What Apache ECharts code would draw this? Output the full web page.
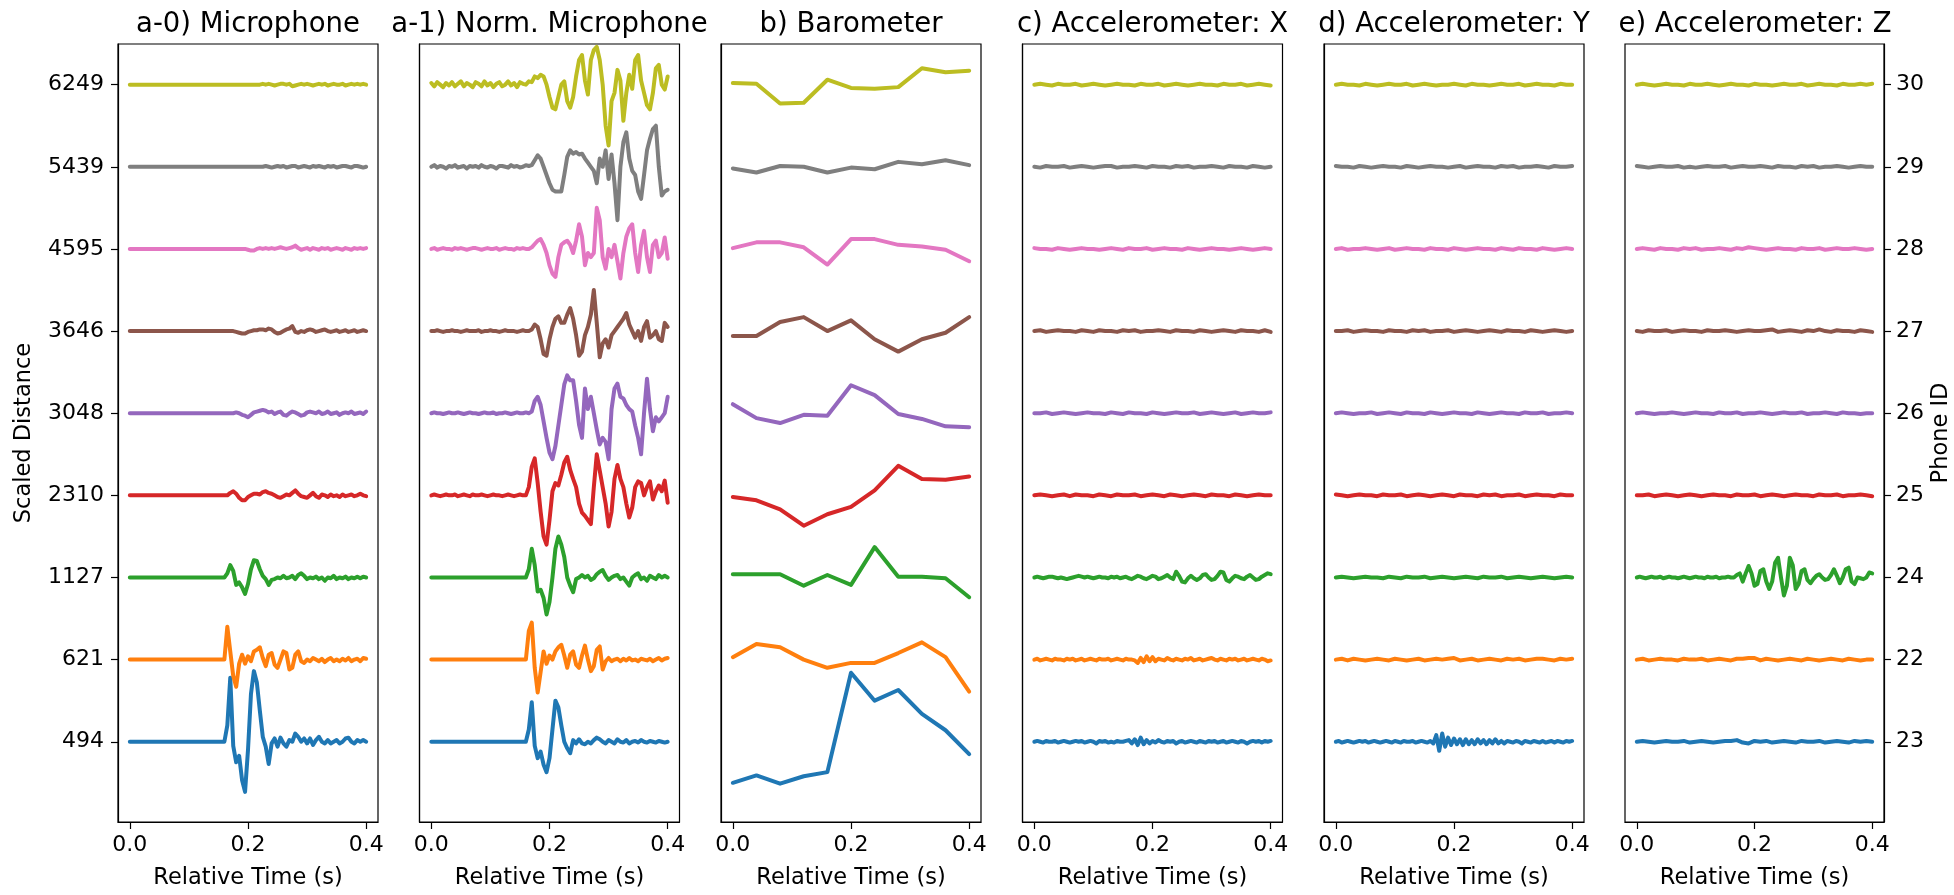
<!DOCTYPE html>
<html>
<head>
<meta charset="utf-8">
<script src="https://cdn.jsdelivr.net/npm/echarts@6/dist/echarts.min.js"></script>
<style>
html,body{margin:0;padding:0;background:#fff;overflow:hidden;width:1954px;height:895px;}
#chart{width:1954px;height:895px;}
</style>
</head>
<body>
<div id="chart"></div>
<script>
// ---------------- DATA ----------------
const panelTitles = ['a-0) Microphone','a-1) Norm. Microphone','b) Barometer','c) Accelerometer: X','d) Accelerometer: Y','e) Accelerometer: Z'];
const distanceLabels = ['494','621','1127','2310','3048','3646','4595','5439','6249'];
const phoneIds = ['23','22','24','25','26','27','28','29','30'];
const xTickValues = [0, 0.2, 0.4];
const traceColors = ['#1f77b4','#ff7f0e','#2ca02c','#d62728','#9467bd','#8c564b','#e377c2','#7f7f7f','#bcbd22'];

// sample times (s)
const tFine = [];   for (let k = 0; k <= 80; k++) tFine.push(+(k * 0.005).toFixed(3));
const tCoarse = []; for (let k = 0; k <= 40; k++) tCoarse.push(+(k * 0.01).toFixed(2));
const tBaro = [0,0.04,0.08,0.12,0.16,0.2,0.24,0.28,0.32,0.36,0.4];

// a-0 Microphone (offset units, 81 samples)
const mic0_blue = [0,0,0,0,0,0,0,0,0,0, 0,0,0,0,0,0,0,0,0,0, 0,0,0,0,0,0,0,0,0,0, 0,0,0,
 0.2,0.78,-0.05,-0.25,-0.17,-0.47,-0.61,-0.1,0.58,0.86, 0.72,0.38,0.06,-0.06,-0.27,-0.02,0.04,-0.06,0.05,-0.02,
 -0.06,0.02,0,0.1,0.06,0,0.04,-0.02,0.04,-0.04, 0.02,0.06,0,-0.02,0.02,-0.02,0,0.02,-0.02,0, 0.04,0.05,0,-0.02,0.02,0,0.02,0];
const mic0_orange = [0,0,0,0,0,0,0,0,0,0, 0,0,0,0,0,0,0,0,0,0, 0,0,0,0,0,0,0,0,0,0, 0,0,0,
 0.4,0.1,-0.2,-0.33,-0.05,0.06,-0.05,0.04,-0.02,0.1, 0.12,0.15,0.02,-0.08,0.06,0.08,-0.06,-0.1,0,0.1,
 0.08,-0.12,-0.1,0.06,0.1,-0.02,-0.04,0,-0.02,0.02, 0,-0.02,0.01,-0.03,0,0.02,-0.02,0,-0.02,0.01, -0.01,0.02,-0.02,0,0.01,-0.02,0.02,0.01];
const mic0_green = [0,0,0,0,0,0,0,0,0,0, 0,0,0,0,0,0,0,0,0,0, 0,0,0,0,0,0,0,0,0,0, 0,0,0,
 0.05,0.15,0.08,-0.09,-0.06,-0.12,-0.2,-0.08,0.1,0.21, 0.2,0.1,0.02,-0.02,-0.09,-0.03,-0.02,0,-0.01,0.02,
 -0.01,0,0.02,-0.02,0.03,0.05,0.02,-0.02,0,-0.01, 0.01,-0.02,0,-0.04,0,-0.01,0.02,-0.02,0,-0.01, 0.01,-0.02,0,-0.01,0.01,-0.01,0.01,0];
const mic0_red = [0,0,0,0,0,0,0,0,0,0, 0,0,0,0,0,0,0,0,0,0, 0,0,0,0,0,0,0,0,0,0, 0,0,0,0,
 0.03,0.05,0.02,-0.03,-0.06,-0.06,-0.02,0,0.02,0.02, 0.01,0.04,0.05,0.03,0.02,0,-0.02,-0.03,-0.01,0.01,
 0,0.03,0.06,0.02,-0.01,-0.02,-0.03,0,0.03,-0.01, -0.03,0.01,0,-0.02,0.01,-0.01,0,-0.02,0.01,-0.01, 0,0.01,-0.01,0,0.02,0,-0.01];
const mic0_purple = [0,0,0,0,0,0,0,0,0,0, 0,0,0,0,0,0,0,0,0,0, 0,0,0,0,0,0,0,0,0,0, 0,0,0,0,0,
 0,0.01,0,-0.02,-0.03,-0.05,-0.02,0.01,0.02,0.03, 0.04,0.03,0.01,0.02,-0.01,0.01,0.02,-0.02,-0.03,0,
 0.02,0.01,-0.01,-0.03,-0.02,0.01,0.02,0.01,0,0.02, -0.01,0,0.02,-0.01,0,0.01,-0.02,0,0.01,0, 0.02,-0.01,0,0.01,-0.01,0.02];
const mic0_brown = [0,0,0,0,0,0,0,0,0,0, 0,0,0,0,0,0,0,0,0,0, 0,0,0,0,0,0,0,0,0,0, 0,0,0,0,0,
 0,-0.01,-0.02,-0.03,-0.03,-0.01,0,0.01,0.01,0.02, 0.02,0.01,0.03,0.02,-0.01,-0.03,-0.02,0,0.02,0.03,
 0.06,-0.01,-0.02,0,-0.01,0.01,0.02,0.01,-0.01,0, 0.01,0.02,0,-0.01,0,0.01,-0.01,0,0.01,-0.01, 0,0.01,-0.01,0,0.01,0];
const mic0_pink = [0,0,0,0,0,0,0,0,0,0, 0,0,0,0,0,0,0,0,0,0, 0,0,0,0,0,0,0,0,0,0, 0,0,0,0,0,0,0,0,
 0,0,-0.01,-0.02,-0.02,0,0.01,0,0.01,0, 0.01,0,0.01,0.02,0.01,0,0.01,0.02,0.04,0.01,
 -0.01,0,0.01,-0.01,0.01,0,-0.01,0.01,0,0.01, -0.01,0,0.01,0,-0.01,0.01,0,-0.01,0.01,0, 0.01,0,0.01];
const mic0_gray = [0,0,0,0,0,0,0,0,0,0, 0,0,0,0,0,0,0,0,0,0, 0,0,0,0,0,0,0,0,0,0, 0,0,0,0,0,0,0,0,0,0, 0,0,0,0,0,
 0,0.01,0,-0.01,0,0.01,0,0.01,-0.01,0, 0.01,0.01,-0.01,0,0.01,0,-0.01,0.01,0,0.01,
 0,-0.01,0.01,0,0.01,-0.01,0,0.01,0.01,0, -0.01,0.01,0.01,0,-0.01,0];
const mic0_olive = [0,0,0,0,0,0,0,0,0,0, 0,0,0,0,0,0,0,0,0,0, 0,0,0,0,0,0,0,0,0,0, 0,0,0,0,0,0,0,0,0,0, 0,0,0,0,
 0,0.01,0,0.01,0,-0.01,0,0.01,0.01,0, 0.01,-0.02,-0.01,0,0.01,0,0.01,0,-0.01,0,
 0.01,0,0.01,-0.01,0,0.01,0,0,0.01,-0.01, 0,0.01,0,0.01,0,0.01,0];

// a-1 Normalised microphone (offset units, 81 samples)
const mic1_blue = [0,0,0,0,0,0,0,0,0,0, 0,0,0,0,0,0,0,0,0,0, 0,0,0,0,0,0,0,0,0,0, 0,0,0,
 0.15,0.48,-0.05,-0.2,-0.12,-0.28,-0.37,-0.2,0.15,0.5, 0.42,0.2,0,-0.08,-0.14,0.02,-0.02,0.03,-0.02,-0.03,
 0,-0.02,0.02,0.05,0.03,0,-0.02,0.02,0,-0.02, 0.03,0,-0.01,0.02,-0.02,0,0.01,-0.01,0.02,0, -0.01,0.01,0,-0.01,0.01,0,-0.01,0];
const mic1_orange = [0,0,0,0,0,0,0,0,0,0, 0,0,0,0,0,0,0,0,0,0, 0,0,0,0,0,0,0,0,0,0, 0,0,0,
 0.35,0.45,-0.1,-0.4,-0.15,0.1,-0.05,0.05,0,0.1, 0.15,0.18,0.05,-0.1,0.06,0.1,-0.06,-0.1,0.05,0.17,
 0,-0.14,-0.08,0.12,0.16,-0.12,-0.02,0.02,-0.02,0, 0.01,-0.02,0.01,-0.01,0.02,-0.01,0,-0.02,0.01,0, -0.01,0.01,-0.02,0,0.02,-0.01,0.01,0.02];
const mic1_green = [0,0,0,0,0,0,0,0,0,0, 0,0,0,0,0,0,0,0,0,0, 0,0,0,0,0,0,0,0,0,0, 0,0,0,
 0.1,0.35,0.15,-0.17,-0.15,-0.25,-0.45,-0.3,0,0.35, 0.5,0.4,0.25,0,-0.1,-0.18,-0.02,0,0.03,0,
 0.02,-0.03,-0.01,0.04,0.07,0.09,0.02,-0.03,0,0.02, 0.03,-0.02,0,-0.05,-0.1,0,0.03,0.05,-0.02,0, -0.04,0.02,0,-0.02,0.03,0,0.02,0];
const mic1_red = [0,0.01,0,-0.01,0,0.01,0,0,0.01,-0.01, 0,0.01,0,-0.01,0.01,0,0,0.01,0,-0.01, 0,0.01,0,0,-0.01,0,0.01,0,-0.01,0, 0.01,0,
 0,0.1,0.35,0.45,0.15,-0.2,-0.5,-0.6,-0.3,0.05, 0.15,0.12,0.25,0.4,0.47,0.31,0.2,0.1,-0.1,-0.21,
 -0.25,-0.3,-0.35,0.1,0.5,0.3,0.1,-0.1,-0.38,-0.2, 0.2,0.37,0.2,0.1,-0.1,-0.27,-0.15,0.1,0.17,0.15, 0,0.1,0.17,-0.05,0.05,0.12,0.05,0.18,-0.09];
const mic1_purple = [0,0.01,0,0,-0.01,0,0.01,0,0,0.01, 0,-0.01,0,0.01,0,0,-0.01,0,0.01,0, 0,0.01,-0.01,0,0,0.01,0,-0.01,0,0.01, 0,0,0.01,0,
 0.02,0.15,0.2,0.1,-0.1,-0.3,-0.48,-0.56,-0.4,-0.15, 0.1,0.35,0.46,0.4,0.4,0.15,-0.14,-0.3,0.3,0.05,
 0.2,0,-0.2,-0.38,-0.3,-0.35,-0.56,0.05,0.3,0.36, 0.2,0.18,0.1,0.05,0.02,-0.15,-0.3,-0.5,0,0.42, 0.05,-0.22,-0.05,-0.1,-0.05,0,0.2];
const mic1_brown = [0,0,0.01,0,-0.01,0,0,0.01,0,0, -0.01,0,0.01,0,0,0,0.01,-0.01,0,0, 0.01,0,0,-0.01,0,0.01,0,0,0,-0.01, 0,0.01,0,0,
 0.02,0.08,0.05,-0.1,-0.28,-0.3,-0.1,0.05,0.15,0.18, 0.1,0.1,0.2,0.28,0.15,-0.05,-0.3,-0.25,-0.05,0.05,
 0.2,0.5,0.1,-0.32,-0.15,-0.1,-0.2,-0.05,0,0.05, 0.1,0.15,0.22,0.08,0,-0.08,0,-0.12,0.05,0.12, -0.08,-0.05,0,-0.1,-0.12,0.1,0.05];
const mic1_pink = [0,0.01,-0.01,0,0.01,0,0,-0.01,0.01,0, 0.01,0,-0.01,0,0.01,0.01,0,-0.01,0,0.01, 0,0,0.01,-0.01,0,0.01,0,0,-0.01,0.01, 0,0.01,0,0,
 0.02,0.06,0.1,0.12,0.05,-0.05,-0.2,-0.3,-0.34,-0.1, 0.05,0.08,0.1,0.05,-0.05,0.1,0.3,0.15,-0.2,-0.05,
 -0.1,-0.05,0.5,0.35,-0.1,-0.24,0,-0.1,0.05,-0.15, -0.36,-0.05,0.15,0.25,0.3,-0.05,-0.28,0.05,0.22,-0.1, -0.28,0.05,0.1,-0.1,-0.05,0.14,-0.12];
const mic1_gray = [0,0.02,-0.01,0.01,0,-0.02,0.01,0,0.02,-0.01, 0,0.01,-0.02,0.01,0,0.01,-0.01,0.02,0,-0.01, 0.01,0,-0.02,0.01,0.01,0,-0.01,0.02,0,0.01, -0.01,0,0.02,0.01,
 0.02,0.08,0.14,0.1,0,-0.1,-0.2,-0.28,-0.3,-0.3, -0.3,-0.1,0.12,0.2,0.16,0.18,0.15,0.16,0.1,0.05,
 0,-0.05,-0.2,0.1,0,0.2,-0.15,0.15,-0.2,-0.65, 0,0.3,0.42,0.1,-0.05,-0.1,-0.3,-0.39,-0.1,0.2, 0.34,0.46,0.5,0,-0.35,-0.3,-0.28];
const mic1_olive = [0.02,-0.02,0.03,0,-0.03,0.02,-0.01,0.03,-0.02,0.01, 0.04,-0.02,0.02,0,-0.03,0.03,0.01,-0.02,0.04,-0.01, 0.02,-0.03,0.01,0.03,-0.02,0,0.04,-0.01,0.02,-0.03, 0.03,0.01,0,0.04,
 0.03,0.1,0.08,0.12,0.1,0,-0.15,-0.28,-0.3,-0.15, 0,0.04,-0.2,-0.28,-0.15,0.1,0.3,0.36,0.05,-0.12,
 0.3,0.42,0.46,0.3,0,-0.5,-0.74,-0.2,-0.1,0.18, 0.05,-0.44,-0.1,0.12,-0.05,0.3,0.36,0.05,-0.1,-0.25, -0.3,-0.1,0.2,0.24,0,-0.06,0.1];

// b Barometer (offset units, 11 samples)
const baro_blue   = [-0.5,-0.41,-0.51,-0.42,-0.37,0.84,0.5,0.63,0.34,0.14,-0.15];
const baro_orange = [0.03,0.19,0.15,0,-0.1,-0.04,-0.04,0.08,0.21,0.03,-0.39];
const baro_green  = [0.04,0.04,0.04,-0.1,0.03,-0.09,0.37,0.01,0.01,-0.01,-0.24];
const baro_red    = [-0.02,-0.06,-0.17,-0.37,-0.23,-0.14,0.06,0.36,0.2,0.19,0.23];
const baro_purple = [0.11,-0.06,-0.12,-0.02,-0.03,0.34,0.22,-0.01,-0.07,-0.16,-0.17];
const baro_brown  = [-0.06,-0.06,0.11,0.17,0,0.13,-0.1,-0.25,-0.1,-0.02,0.17];
const baro_pink   = [0.01,0.08,0.08,0.02,-0.19,0.12,0.12,0.05,0.03,-0.01,-0.15];
const baro_gray   = [-0.02,-0.07,0.01,0,-0.07,-0.01,-0.03,0.06,0.03,0.08,0.02];
const baro_olive  = [0.02,0.01,-0.23,-0.22,0.06,-0.04,-0.05,-0.03,0.2,0.15,0.17];

// c/d/e Accelerometers (hundredths of an offset unit; 41 or 81 samples)
const accX_blue = [0,1,0,-1,1,0,0,1,-1,0, 1,0,-1,0,1,0,1,-1,0,1, 0,-2,1,0,1,-1,0,-1,1,0, 0,1,2,-2,3,-4,5,-3,2,-2,
 1,-1,2,0,-1,1,0,1,-2,0, 1,-1,0,1,0,-1,1,0,-1,1, 0,1,-1,0,1,-1,0,1,0,-1, 1,0,-2,0,1,0,1,-1,1,0,1];
const accX_orange = [0,1,-1,0,1,0,-1,1,0,0, -1,1,0,1,-1,0,1,-1,0,1, 0,-1,1,0,0,1,-1,0,1,0, -1,1,0,0,-1,-4,2,-3,4,-2,
 3,-2,1,0,-1,2,0,-1,1,0, -1,1,0,2,-1,0,1,-1,0,1, 2,0,-1,1,0,-1,1,0,1,-1, 0,1,-1,0,1,0,-1,1,0,-2,-1];
const accX_green = [0,1,0,-1,0,1,1,0,-1,0,-1, -2,-1,0,1,2,1,0,1,0,-1, 0,1,0,0,-1,1,0,1,-1,0, 1,-1,-2,0,2,1,-1,-2,0,2,
 1,-2,-1,1,3,0,-2,7,2,-5, -6,-1,2,-1,-3,-1,3,4,0,-3, -2,2,7,6,-3,-5,-1,2,1,-1, -2,1,3,0,-3,-2,1,3,5,4];
const accX_red    = [0,1,0,-1,0,1,-1,1,0,0, -1,1,0,-1,1,0,0,1,-1,0, 1,0,-1,1,0,-1,0,1,0,-1, 1,0,0,-1,1,0,-1,0,1,0,0];
const accX_purple = [0,0,1,-1,0,1,0,-1,0,1, 0,0,-1,1,0,-1,1,0,0,-1, 1,0,-1,0,1,0,0,1,-1,0, 1,0,-1,0,1,-1,0,1,0,0,1];
const accX_brown  = [0,1,-1,0,1,0,0,-1,1,0, -1,1,0,0,-1,1,0,1,-1,0, 0,1,0,-1,1,0,0,-1,1,0, -1,0,1,0,-1,1,0,0,-1,1,-1];
const accX_pink   = [1,0,0,-1,1,0,-1,0,1,0, 0,-1,0,1,0,-1,1,0,0,1, -1,0,1,0,0,-1,1,0,-1,0, 1,0,0,-1,0,1,0,-1,0,1,0];
const accX_gray   = [0,-1,1,0,0,1,-1,0,1,0, -1,0,1,1,-1,0,0,1,0,-1, 1,0,0,-1,1,0,1,-1,0,0, 1,0,-1,1,0,0,-1,1,0,-1,0];
const accX_olive  = [0,1,0,-1,1,0,0,1,-1,0, 1,0,-1,0,1,0,0,-1,1,0, 0,1,-1,0,1,0,-1,0,1,0, 0,-1,1,0,0,1,-1,0,1,0,-1];

const accY_blue = [0,1,-1,0,1,0,-1,0,1,0, 1,-1,0,1,0,-1,0,1,0,-1, 1,0,-1,1,0,0,1,-1,0,1, 0,-1,1,-2,8,-11,10,-6,5,-4,
 4,-3,3,-4,3,-3,2,-3,3,-2, 2,-3,2,-2,3,-2,1,-2,1,0, -1,1,0,-2,1,0,-1,1,0,-1, 1,-1,0,1,-1,1,0,-1,1,0,1];
const accY_orange = [0,1,-1,1,0,-1,0,1,0,-1, 1,0,-1,0,1,-1,0,1,0,1, 2,-1,0,1,-1,0,1,0,-1,1, 0,1,-1,0,1,1,0,-1,1,0,1];
const accY_green  = [0,1,0,-1,0,1,0,0,-1,1, 0,-1,1,0,0,1,-1,0,1,0, -1,0,1,0,-1,1,0,0,1,-1, 0,1,0,-1,0,1,0,-1,0,1,0];
const accY_red    = [1,0,-1,0,1,0,0,-1,1,0, 0,1,-1,0,1,0,-1,0,1,0, -1,1,0,0,-1,1,0,1,-1,0, 0,1,-1,0,1,0,0,-1,1,0,0];
const accY_purple = [0,1,0,-1,0,0,1,-1,0,1, 0,-1,1,0,0,-1,1,0,-1,0, 1,0,0,-1,1,0,-1,0,1,0, 0,-1,1,0,0,1,-1,0,0,1,0];
const accY_brown  = [0,0,1,-1,0,1,0,0,-1,1, 0,0,-1,1,0,1,-1,0,0,1, -1,0,1,0,-1,0,1,0,-1,1, 0,0,-1,1,0,-1,0,1,0,-1,0];
const accY_pink   = [0,1,-1,0,0,1,0,-1,0,1, -1,0,1,0,0,-1,1,0,0,-1, 1,0,-1,0,1,0,0,-1,1,0, -1,1,0,0,-1,1,0,-1,0,1,0];
const accY_gray   = [1,0,0,-1,1,0,-1,0,1,0, 0,-1,1,0,-1,0,1,0,0,-1, 0,1,-1,0,1,0,0,-1,1,0, 1,-1,0,0,1,0,-1,1,0,0,1];
const accY_olive  = [0,1,0,0,-1,1,0,-1,0,1, 0,0,1,-1,0,1,0,-1,0,0, 1,0,-1,1,0,0,-1,0,1,0, 0,1,-1,0,1,0,0,-1,1,0,0];

const accZ_blue   = [0,1,0,-1,0,1,0,0,1,-1, 0,1,0,-1,0,1,1,2,-1,-2, 1,0,1,-1,0,1,0,-1,1,0, 0,1,-1,0,1,0,-1,1,0,1,0];
const accZ_orange = [0,1,-1,0,1,0,0,-1,1,0, 0,1,-1,0,1,0,-1,1,1,2, 2,-1,1,0,-1,0,1,0,-1,1, 0,-1,0,1,0,-1,1,0,-1,0,0];
const accZ_green  = [0,1,0,-1,0,1,0,0,1,-1, 0,1,0,0,-1,0,1,0,-1,0, 1,0,0,-1,1,0,0,1,-1,0, 0,1,0,0,
 3,5,-5,5,14,5,-10,-8,8,10, -5,-14,-5,18,24,0,-22,-10,24,15,
 -14,-8,8,10,-3,-7,-2,2,4,0, -3,-2,3,10,2,-7,0,10,12,-5, -8,0,-1,-2,0,6,5];
const accZ_red    = [0,0,1,-1,0,1,0,-1,0,1, 0,-1,0,1,0,0,-1,1,0,0, 1,-1,0,1,0,-1,0,1,0,0, -1,1,0,0,1,-1,0,0,1,0,-1];
const accZ_purple = [0,1,0,-1,0,0,1,0,-1,0, 1,0,0,-1,1,0,0,1,-1,0, 0,1,0,-1,0,1,0,0,1,-1, 0,0,1,0,-1,1,0,0,-1,0,0];
const accZ_brown  = [0,-1,1,0,0,1,-1,0,1,0, 0,-1,1,0,0,1,0,-1,0,1, 0,0,1,2,-1,0,1,0,-1,1, 0,2,0,-1,1,0,0,-1,1,0,-1];
const accZ_pink   = [0,1,0,-1,1,0,0,-1,1,0, 1,-1,0,0,1,0,-1,1,0,2, 1,0,-1,0,1,0,0,-1,1,0, 0,1,-1,0,1,0,0,1,0,-1,0];
const accZ_gray   = [1,0,-1,0,1,0,0,1,-1,0, -1,0,1,0,0,1,-1,0,1,0, 0,1,0,-1,1,0,0,-1,1,0, 1,-1,0,0,1,0,-1,0,1,0,0];
const accZ_olive  = [0,1,0,-1,0,1,0,0,-1,1, 0,0,1,0,-1,0,1,0,0,-1, 1,0,0,-1,0,1,0,0,1,-1, 0,1,0,0,-1,1,0,0,1,0,1];

// ---------------- CHART ----------------
const panelTraces = [
  {scale:1, traces:[mic0_blue,mic0_orange,mic0_green,mic0_red,mic0_purple,mic0_brown,mic0_pink,mic0_gray,mic0_olive]},
  {scale:1, traces:[mic1_blue,mic1_orange,mic1_green,mic1_red,mic1_purple,mic1_brown,mic1_pink,mic1_gray,mic1_olive]},
  {scale:1, traces:[baro_blue,baro_orange,baro_green,baro_red,baro_purple,baro_brown,baro_pink,baro_gray,baro_olive]},
  {scale:0.01, traces:[accX_blue,accX_orange,accX_green,accX_red,accX_purple,accX_brown,accX_pink,accX_gray,accX_olive]},
  {scale:0.01, traces:[accY_blue,accY_orange,accY_green,accY_red,accY_purple,accY_brown,accY_pink,accY_gray,accY_olive]},
  {scale:0.01, traces:[accZ_blue,accZ_orange,accZ_green,accZ_red,accZ_purple,accZ_brown,accZ_pink,accZ_gray,accZ_olive]}
];

const FONT = 'DejaVu Sans';
const gridLefts = [118, 419.5, 721, 1022.5, 1324, 1625];
const GW = 260, GTOP = 44, GH = 785;
const YMIN = -0.977, YMAX = 8.495;

function timesFor(arr) {
  if (arr.length === tFine.length) return tFine;
  if (arr.length === tCoarse.length) return tCoarse;
  return tBaro;
}

const grids = [], xAxes = [], yAxes = [], series = [], graphics = [];
gridLefts.forEach((L, p) => {
  grids.push({left: L, top: GTOP, width: GW, height: GH, show: true, borderColor: '#000', borderWidth: 1.2, backgroundColor: 'transparent', containLabel: false});
  xAxes.push({
    gridIndex: p, type: 'value', min: -0.02, max: 0.42,
    axisLine: {show: true, onZero: false, lineStyle: {color: '#000', width: 1.2}},
    axisTick: {show: true, customValues: xTickValues, length: 7, lineStyle: {color: '#000', width: 1.2}},
    axisLabel: {customValues: xTickValues, formatter: v => v.toFixed(1), fontSize: 22, color: '#000', fontFamily: FONT, margin: 12},
    splitLine: {show: false},
    name: 'Relative Time (s)', nameLocation: 'middle', nameGap: 45,
    nameTextStyle: {fontSize: 22.5, color: '#000', fontFamily: FONT}
  });
  const isFirst = p === 0, isLast = p === gridLefts.length - 1;
  const y = {
    gridIndex: p, type: 'value', min: YMIN, max: YMAX,
    position: isLast ? 'right' : 'left',
    axisLine: {show: true, onZero: false, lineStyle: {color: '#000', width: 1.2}},
    splitLine: {show: false},
    axisTick: {show: isFirst || isLast, customValues: [0,1,2,3,4,5,6,7,8], length: 7, lineStyle: {color: '#000', width: 1.2}},
    axisLabel: {show: isFirst || isLast, customValues: [0,1,2,3,4,5,6,7,8],
      formatter: v => (isLast ? phoneIds : distanceLabels)[Math.round(v)],
      fontSize: 22, color: '#000', fontFamily: FONT, margin: isLast ? 12 : 14}
  };
  if (isFirst) Object.assign(y, {name: 'Scaled Distance', nameLocation: 'middle', nameGap: 82, nameRotate: 90,
    nameTextStyle: {fontSize: 22.5, color: '#000', fontFamily: FONT}});
  if (isLast) Object.assign(y, {name: 'Phone ID', nameLocation: 'middle', nameGap: 46, nameRotate: 90,
    nameTextStyle: {fontSize: 22.5, color: '#000', fontFamily: FONT}});
  yAxes.push(y);

  const panel = panelTraces[p];
  panel.traces.forEach((vals, j) => {
    const ts = timesFor(vals);
    series.push({
      type: 'line', xAxisIndex: p, yAxisIndex: p, showSymbol: false, symbol: 'none',
      data: vals.map((v, k) => [ts[k], j + v * panel.scale]),
      lineStyle: {width: 4, color: traceColors[j], join: 'round', cap: 'round'},
      itemStyle: {color: traceColors[j]}, clip: true, silent: true, animation: false
    });
  });

  graphics.push({type: 'text', x: L + GW / 2, y: 25, silent: true,
    style: {text: panelTitles[p], fill: '#000', fontSize: 27.5, fontFamily: FONT, align: 'center', verticalAlign: 'middle'}});
});

const chart = echarts.init(document.getElementById('chart'), null, {renderer: 'canvas'});
chart.setOption({
  animation: false,
  backgroundColor: '#fff',
  textStyle: {fontFamily: FONT},
  grid: grids, xAxis: xAxes, yAxis: yAxes, series: series, graphic: graphics
});
</script>
</body>
</html>
